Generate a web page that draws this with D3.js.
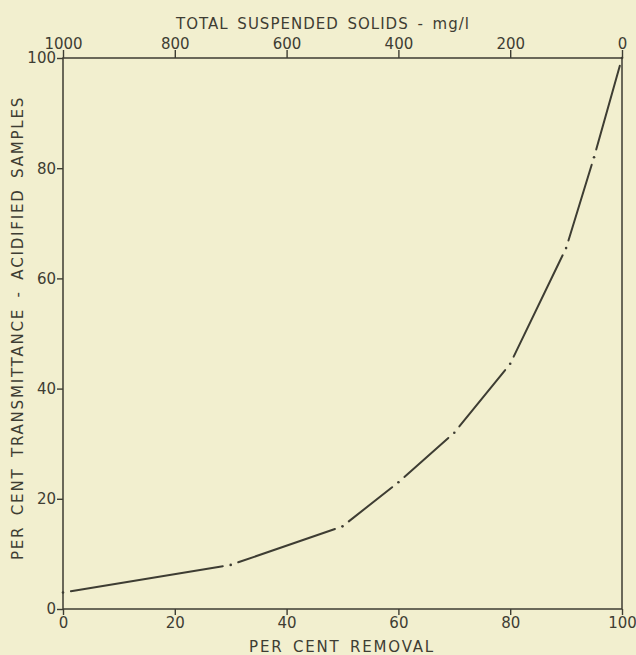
<!DOCTYPE HTML>
<html>
<head>
<meta charset="utf-8">
<title>Transmittance vs removal</title>
<script src="https://d3js.org/d3.v7.min.js"></script>
<style>
  body { margin: 0; background: #f2efcf; }
  text { font-family: "DejaVu Sans", sans-serif; fill: #3e3d33; }
</style>
</head>

<body>
<script>

"use strict";

// per cent removal vs per cent transmittance
const removal = [0, 30, 50, 60, 70, 80, 90, 95, 100];
const transmittance = [3, 8, 15, 23, 32, 44.5, 65.5, 82, 100];

const bottomTicks = [0, 20, 40, 60, 80, 100];
const leftTicks = [0, 20, 40, 60, 80, 100];
const topTicks = [1000, 800, 600, 400, 200, 0];

const ink = "#3e3d33";

const svg = d3.select("body").append("svg")
  .attr("width", 636)
  .attr("height", 655);

svg.append("rect")
  .attr("width", 636)
  .attr("height", 655)
  .attr("fill", "#f2efcf");

const x = d3.scaleLinear().domain([0, 100]).range([63, 622]);
const y = d3.scaleLinear().domain([0, 100]).range([609, 58]);
const xTop = d3.scaleLinear().domain([1000, 0]).range([63, 622]);

// frame
svg.append("rect")
  .attr("x", x(0))
  .attr("y", y(100))
  .attr("width", x(100) - x(0))
  .attr("height", y(0) - y(100))
  .attr("fill", "none")
  .attr("stroke", ink)
  .attr("stroke-width", 1.5);

function styleAxis(g) {
  g.select(".domain").remove();
  g.selectAll(".tick line").attr("stroke", ink).attr("stroke-width", 1.4);
  g.selectAll(".tick text")
    .attr("fill", ink)
    .style("font-size", "15px");
}

svg.append("g")
  .attr("transform", "translate(0," + y(0) + ")")
  .call(d3.axisBottom(x).tickValues(bottomTicks).tickSize(6).tickPadding(2).tickFormat(d3.format("d")))
  .call(styleAxis);

svg.append("g")
  .attr("transform", "translate(" + x(0) + ",0)")
  .call(d3.axisLeft(y).tickValues(leftTicks).tickSize(6).tickPadding(1).tickFormat(d3.format("d")))
  .call(styleAxis);

svg.append("g")
  .attr("transform", "translate(0," + y(100) + ")")
  .call(d3.axisTop(xTop).tickValues(topTicks).tickSize(8).tickPadding(1).tickFormat(d3.format("d")))
  .call(styleAxis);

// titles
svg.append("text")
  .attr("x", 323)
  .attr("y", 29)
  .attr("text-anchor", "middle")
  .style("font-size", "15px")
  .style("letter-spacing", "1px")
  .style("word-spacing", "3px")
  .text("TOTAL SUSPENDED SOLIDS - mg/l");

svg.append("text")
  .attr("x", 342)
  .attr("y", 652)
  .attr("text-anchor", "middle")
  .style("font-size", "15px")
  .style("letter-spacing", "1.8px")
  .style("word-spacing", "3px")
  .text("PER CENT REMOVAL");

svg.append("text")
  .attr("transform", "translate(23," + 328 + ") rotate(-90)")
  .attr("text-anchor", "middle")
  .style("font-size", "15px")
  .style("letter-spacing", "1.8px")
  .style("word-spacing", "4px")
  .text("PER CENT TRANSMITTANCE - ACIDIFIED SAMPLES");

// dash-dot curve: a dash between each pair of points, a dot on each point
const pts = removal.map((r, i) => [x(r), y(transmittance[i])]);
const gap = 8;
const segs = d3.pairs(pts).map(([a, b]) => {
  const dx = b[0] - a[0], dy = b[1] - a[1];
  const len = Math.hypot(dx, dy);
  const ux = dx / len, uy = dy / len;
  return [a[0] + ux * gap, a[1] + uy * gap, b[0] - ux * gap, b[1] - uy * gap];
});

svg.append("g").selectAll("line")
  .data(segs)
  .enter()
  .append("line")
  .attr("x1", (d) => d[0])
  .attr("y1", (d) => d[1])
  .attr("x2", (d) => d[2])
  .attr("y2", (d) => d[3])
  .attr("stroke", ink)
  .attr("stroke-width", 2)
  .attr("stroke-linecap", "round");

svg.append("g").selectAll("circle")
  .data(pts)
  .enter()
  .append("circle")
  .attr("cx", (d) => d[0])
  .attr("cy", (d) => d[1])
  .attr("r", 1.3)
  .attr("fill", ink);

</script>
</body>
</html>
